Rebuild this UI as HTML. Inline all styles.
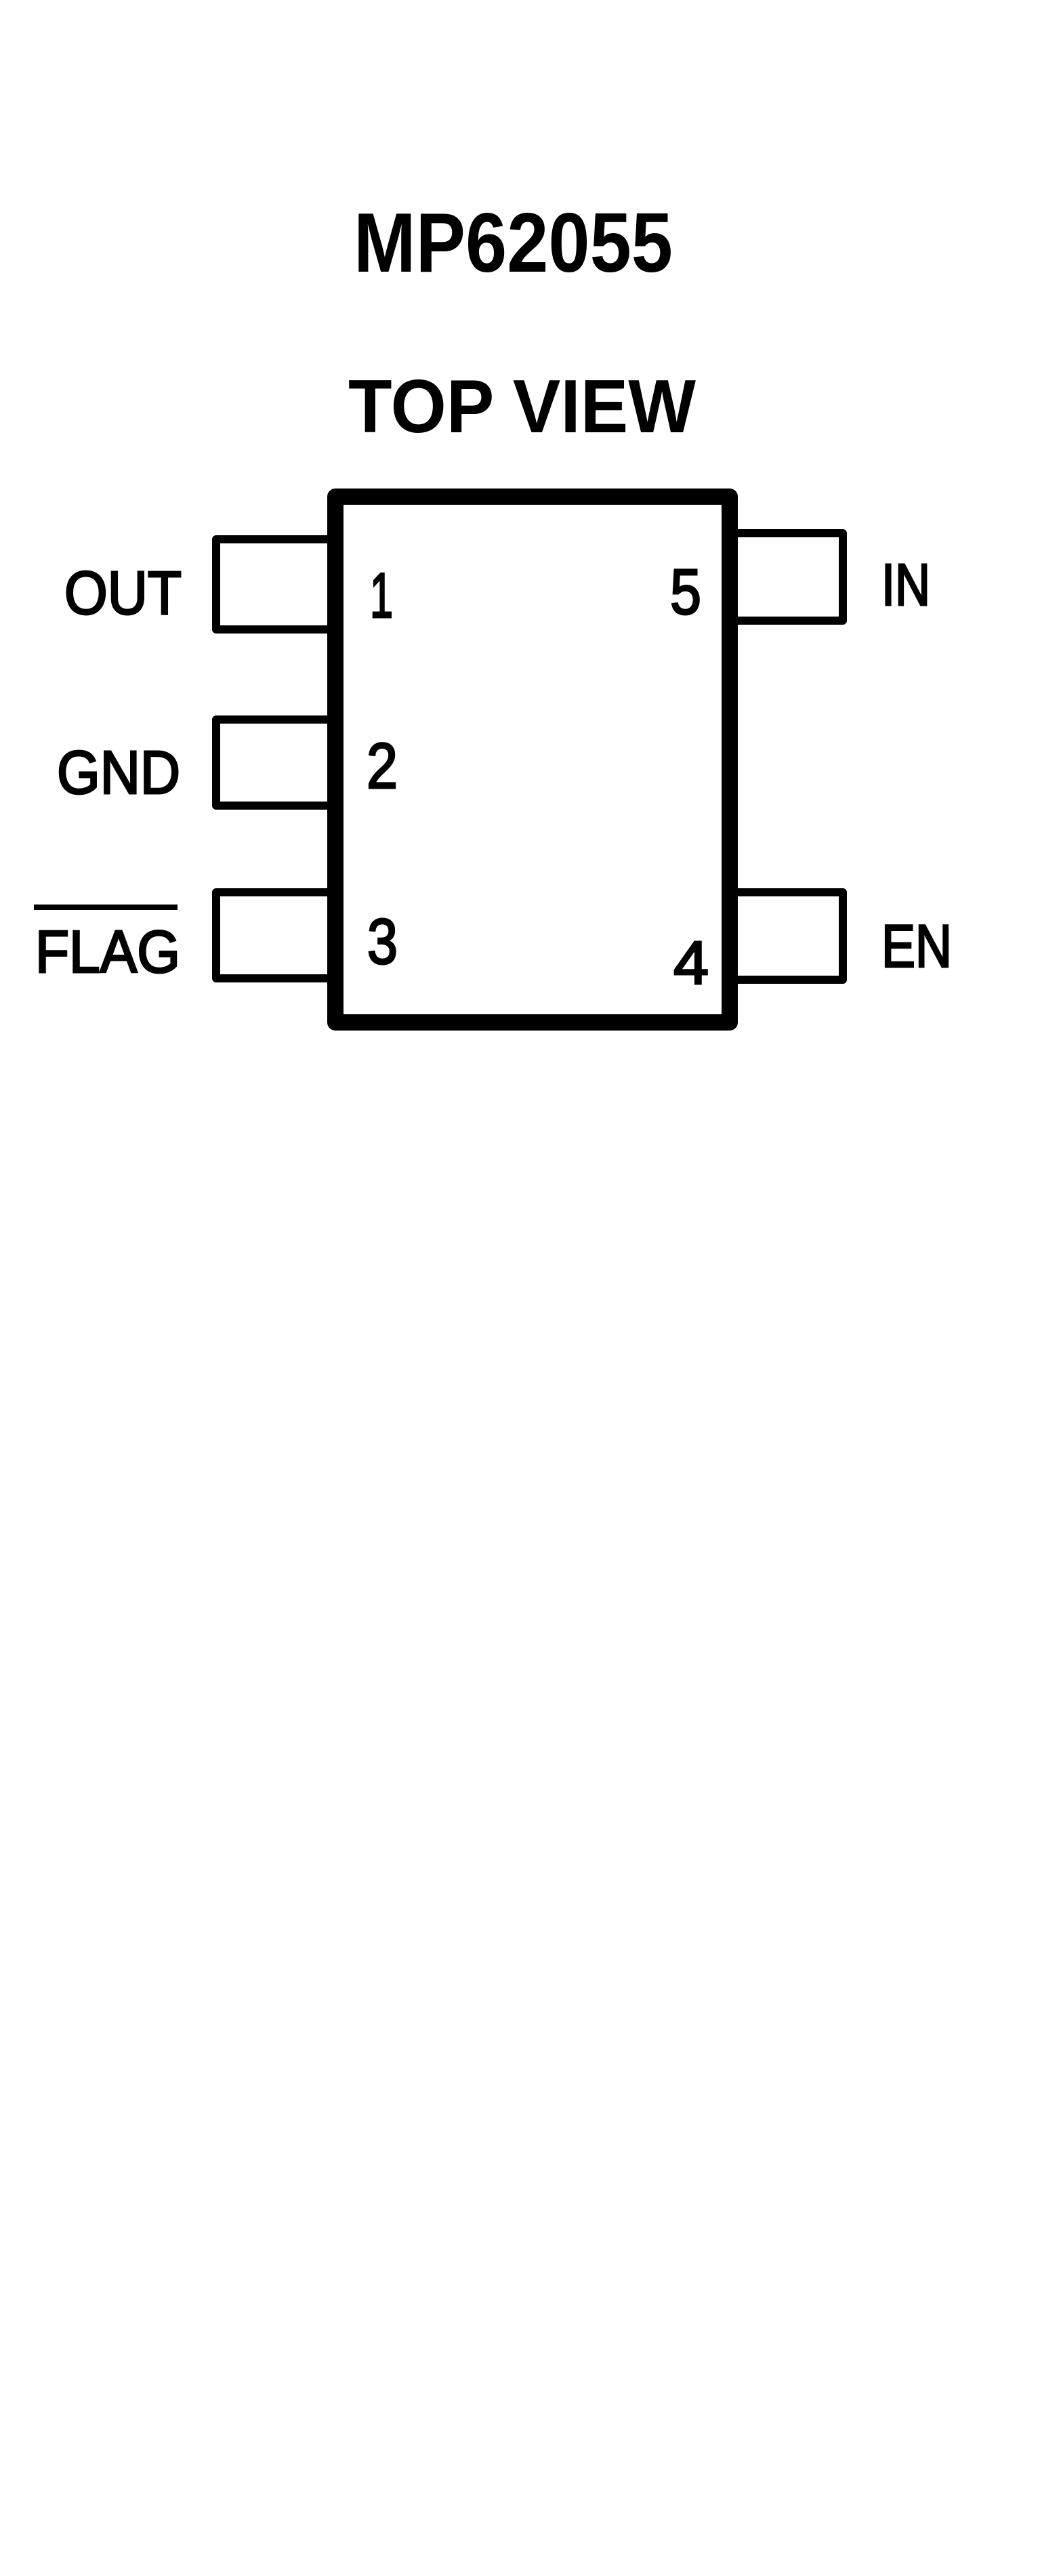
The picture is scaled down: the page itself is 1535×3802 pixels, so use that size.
<!DOCTYPE html>
<html><head><meta charset="utf-8"><style>html,body{margin:0;padding:0;background:#fff}svg{display:block}</style></head>
<body>
<svg width="1535" height="3802" viewBox="0 0 1535 3802" xmlns="http://www.w3.org/2000/svg">
<rect width="1535" height="3802" fill="#fff"/>
<g font-family="Liberation Sans, Arial, sans-serif" font-weight="bold" fill="#000">
<text x="522" y="401" font-size="124" textLength="471" lengthAdjust="spacingAndGlyphs">MP62055</text>
<text x="514" y="638" font-size="111" textLength="513" lengthAdjust="spacingAndGlyphs">TOP VIEW</text>
</g>
<g font-family="Liberation Sans, Arial, sans-serif" fill="#000" stroke="#000" stroke-width="3">
<text x="95" y="906" font-size="90" textLength="173" lengthAdjust="spacingAndGlyphs">OUT</text>
<text x="84" y="1171" font-size="90" textLength="182" lengthAdjust="spacingAndGlyphs">GND</text>
<text x="52" y="1435" font-size="88" textLength="214" lengthAdjust="spacingAndGlyphs">FLAG</text>
<text x="1301" y="893" font-size="87" textLength="72" lengthAdjust="spacingAndGlyphs">IN</text>
<text x="1301" y="1427" font-size="89" textLength="104" lengthAdjust="spacingAndGlyphs">EN</text>
<text x="546" y="911" font-size="94" textLength="34" lengthAdjust="spacingAndGlyphs">1</text>
<text x="541" y="1163" font-size="95" textLength="46" lengthAdjust="spacingAndGlyphs">2</text>
<text x="542" y="1422" font-size="95" textLength="45" lengthAdjust="spacingAndGlyphs">3</text>
<text x="989" y="906" font-size="95" textLength="46" lengthAdjust="spacingAndGlyphs">5</text>
<text x="994" y="1452" font-size="90" textLength="52" lengthAdjust="spacingAndGlyphs">4</text>
</g>
<rect x="50" y="1335" width="212" height="8" fill="#000"/>
<g fill="none" stroke="#000" stroke-linejoin="round">
<rect x="495" y="733" width="582" height="776" stroke-width="24"/>
<path d="M483 796 H319 V929 H483" stroke-width="12"/>
<path d="M483 1062 H319 V1189 H483" stroke-width="12"/>
<path d="M483 1317 H319 V1444 H483" stroke-width="12"/>
<path d="M1089 787 H1244 V916 H1089" stroke-width="12"/>
<path d="M1089 1317 H1244 V1446 H1089" stroke-width="12"/>
</g>
</svg>
</body></html>
